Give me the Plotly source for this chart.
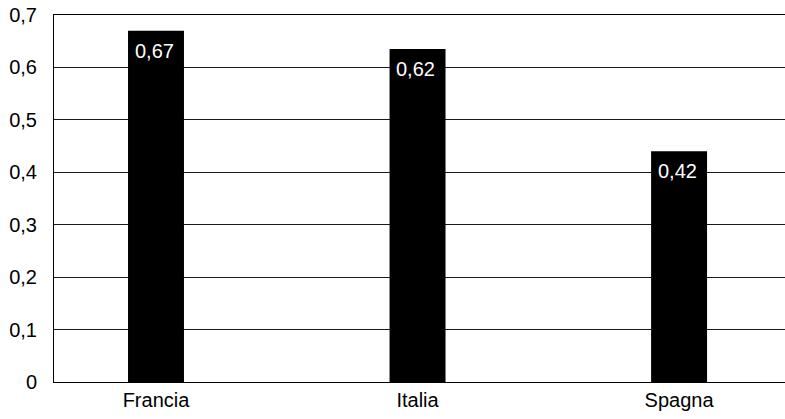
import plotly.graph_objects as go

categories = ["Francia", "Italia", "Spagna"]
bar_heights = [0.67, 0.635, 0.44]
value_labels = ["0,67", "0,62", "0,42"]
y_ticks = [0, 0.1, 0.2, 0.3, 0.4, 0.5, 0.6, 0.7]

FONT = "Liberation Sans, Arial, Helvetica"

fig = go.Figure()
fig.add_trace(go.Bar(
    x=categories, y=bar_heights, width=0.214,
    marker=dict(color="black", line=dict(width=0)),
    hoverinfo="skip",
))
for c, h, t in zip(categories, bar_heights, value_labels):
    fig.add_annotation(x=c, y=h, text=t, showarrow=False, yanchor="top", yshift=-7, xshift=-2,
                       font=dict(family=FONT, size=20, color="white"))

fig.update_layout(
    width=785, height=419, autosize=False,
    margin=dict(l=54, r=0, t=15, b=37),
    paper_bgcolor="white", plot_bgcolor="white",
    separators=",.",
    showlegend=False,
    font=dict(family=FONT, size=20, color="black"),
)
fig.update_xaxes(
    range=[-0.39, 2.405], showline=True, mirror=True, linecolor="black", linewidth=1,
    showgrid=False, ticks="", tickfont=dict(size=20),
)
fig.update_yaxes(
    range=[0, 0.7], tickvals=y_ticks, showline=True, linecolor="black", linewidth=1,
    showgrid=True, gridcolor="#1a1a1a", gridwidth=1, zeroline=False,
    ticks="", ticklabelstandoff=12, tickfont=dict(size=20),
)
fig.write_html(
    "out.html",
    config={"responsive": False, "displayModeBar": False},
    post_script="document.body.style.margin='0';document.body.style.overflow='hidden';",
)
